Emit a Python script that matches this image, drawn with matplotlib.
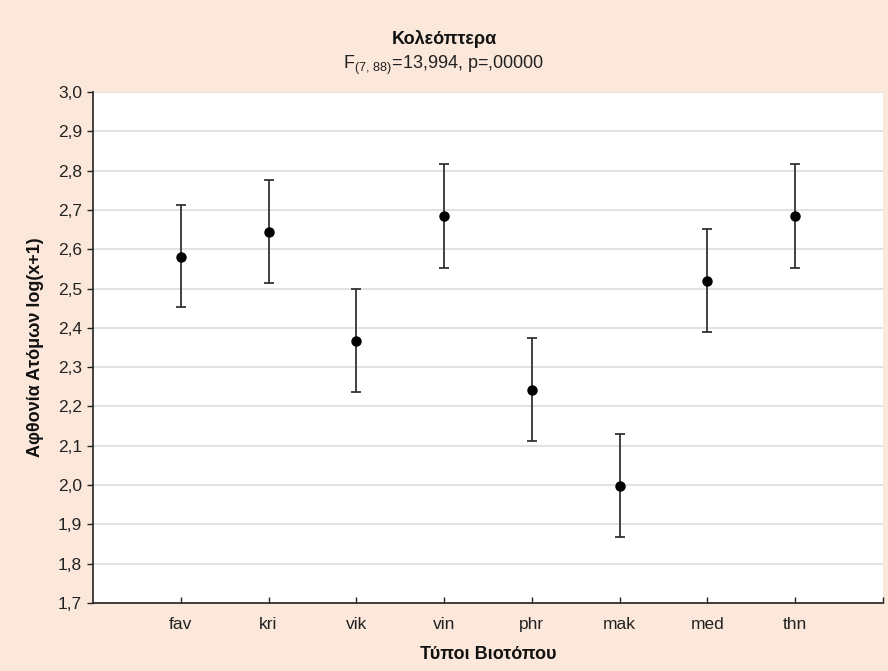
import matplotlib
matplotlib.use("Agg")
import matplotlib.pyplot as plt

plt.rcParams['font.family'] = ['Liberation Sans', 'DejaVu Sans']
plt.rcParams['mathtext.fontset'] = 'custom'
plt.rcParams['mathtext.rm'] = 'Liberation Sans'
plt.rcParams['mathtext.default'] = 'regular'

categories = ["fav", "kri", "vik", "vin", "phr", "mak", "med", "thn"]
means = [2.580, 2.643, 2.367, 2.684, 2.243, 1.997, 2.520, 2.684]
lower = [2.452, 2.514, 2.238, 2.553, 2.113, 1.867, 2.390, 2.553]
upper = [2.713, 2.775, 2.499, 2.816, 2.375, 2.129, 2.652, 2.816]
yticks = [1.7, 1.8, 1.9, 2.0, 2.1, 2.2, 2.3, 2.4, 2.5, 2.6, 2.7, 2.8, 2.9, 3.0]
ytick_labels = ["1,7", "1,8", "1,9", "2,0", "2,1", "2,2", "2,3", "2,4", "2,5", "2,6", "2,7", "2,8", "2,9", "3,0"]

bg = "#FCE8DA"
fig = plt.figure(figsize=(8.88, 6.71), dpi=100, facecolor=bg)
ax = fig.add_axes([0.1047, 0.1013, 0.8897, 0.7616])
ax.set_facecolor("white")

x = list(range(1, len(categories) + 1))
yerr = [[m - l for m, l in zip(means, lower)], [u - m for m, u in zip(means, upper)]]
ax.errorbar(x, means, yerr=yerr, fmt='o', color='black', ecolor='#333333',
            elinewidth=1.3, capsize=3.5, capthick=1.3, markersize=6.5, zorder=3)

ax.set_xlim(0, 9)
ax.set_ylim(1.7, 3.0)
ax.set_yticks(yticks)
ax.set_yticklabels(ytick_labels)
ax.set_xticks(x + [9])
ax.set_xticklabels(categories + [""])
ax.yaxis.grid(True, color='#DDDDDD', linewidth=1.2)
ax.set_axisbelow(True)

for s in ['top', 'right']:
    ax.spines[s].set_visible(False)
for s in ['left', 'bottom']:
    ax.spines[s].set_color('#222222')
    ax.spines[s].set_linewidth(1.2)

ax.tick_params(axis='y', direction='out', length=4, width=1, labelsize=12.5, colors='#222222', pad=4)
ax.tick_params(axis='x', direction='in', length=4, width=1, labelsize=12.5, colors='#222222', pad=10)

ax.set_ylabel("Αφθονία Ατόμων log(x+1)", fontsize=13, fontweight='bold', color='#111111', labelpad=10)
ax.set_xlabel("Τύποι Βιοτόπου", fontsize=13, fontweight='bold', color='#111111', labelpad=10)

fig.text(0.5, 0.942, "Κολεόπτερα", ha='center', va='center', fontsize=13, fontweight='bold', color='#111111')
fig.text(0.5, 0.902, r"F$_{(7{,}\ 88)}$=13,994, p=,00000", ha='center', va='center', fontsize=13, color='#222222')

fig.savefig("out.png", dpi=100, facecolor=bg)
